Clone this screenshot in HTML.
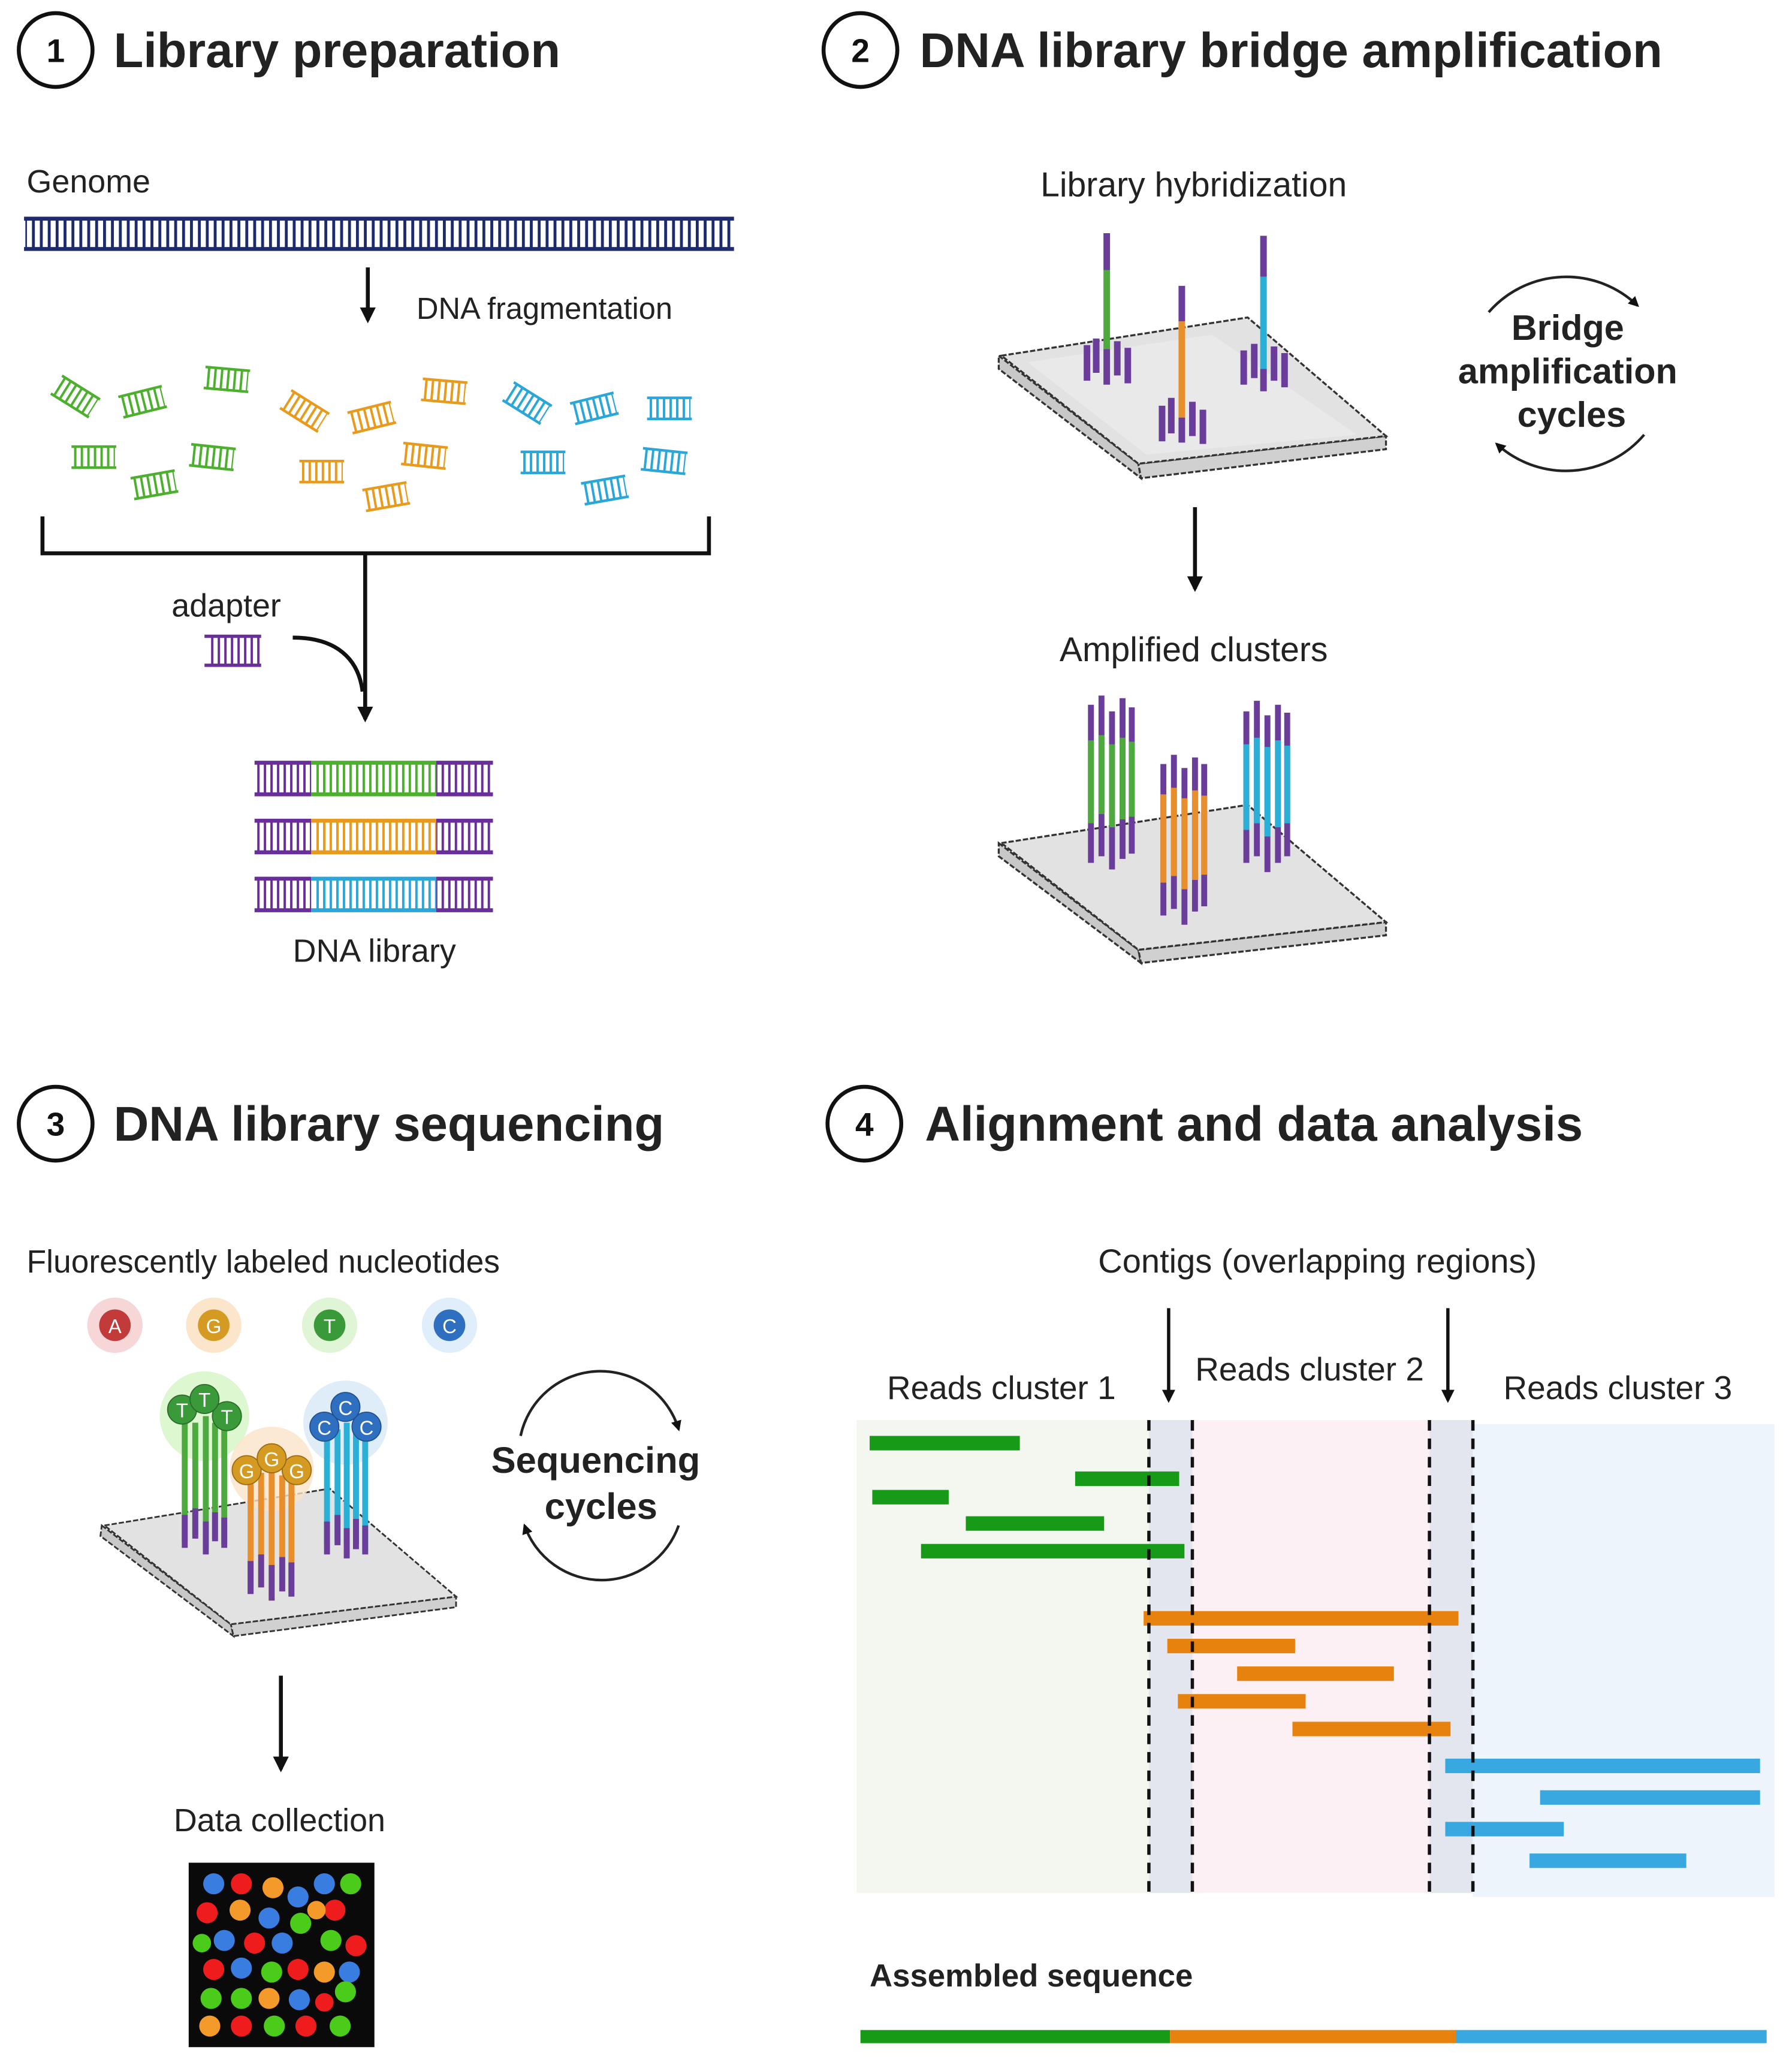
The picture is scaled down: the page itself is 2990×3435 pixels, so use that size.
<!DOCTYPE html>
<html><head><meta charset="utf-8"><style>html,body{margin:0;padding:0;background:#fff}svg{display:block}</style></head><body>
<svg width="2990" height="3435" viewBox="0 0 1360 1563" xmlns="http://www.w3.org/2000/svg" font-family="Liberation Sans, sans-serif">
<defs>
<pattern id="pN" width="6" height="10" patternUnits="userSpaceOnUse"><rect width="2.2" height="10" fill="#1d2a6b"/></pattern>
<pattern id="pG" width="5" height="10" patternUnits="userSpaceOnUse"><rect width="1.8" height="10" fill="#4cb02e"/></pattern>
<pattern id="pO" width="5" height="10" patternUnits="userSpaceOnUse"><rect width="1.8" height="10" fill="#e89a1c"/></pattern>
<pattern id="pB" width="5" height="10" patternUnits="userSpaceOnUse"><rect width="1.8" height="10" fill="#2aa6d8"/></pattern>
<pattern id="pP" width="5" height="10" patternUnits="userSpaceOnUse"><rect width="1.8" height="10" fill="#6a2e9a"/></pattern>
<g id="fG"><rect x="-16" y="-8" width="32" height="16" fill="url(#pG)"/><path d="M-17 -8H17M-17 8H17" stroke="#4cb02e" stroke-width="2"/></g>
<g id="fO"><rect x="-16" y="-8" width="32" height="16" fill="url(#pO)"/><path d="M-17 -8H17M-17 8H17" stroke="#e89a1c" stroke-width="2"/></g>
<g id="fB"><rect x="-16" y="-8" width="32" height="16" fill="url(#pB)"/><path d="M-17 -8H17M-17 8H17" stroke="#2aa6d8" stroke-width="2"/></g>
<marker id="ah2" viewBox="0 0 10 10" refX="8" refY="5" markerWidth="4" markerHeight="4" orient="auto" markerUnits="strokeWidth"><path d="M0 0L10 5L0 10Z" fill="#111"/></marker>
</defs>

<!-- Titles -->
<g fill="none" stroke="#111" stroke-width="3">
<circle cx="42" cy="38" r="28"/><circle cx="653" cy="38" r="28"/><circle cx="42" cy="853" r="28"/><circle cx="656" cy="853" r="28"/>
</g>
<g font-weight="bold" font-size="25" text-anchor="middle" fill="#111">
<text x="42" y="47">1</text><text x="653" y="47">2</text><text x="42" y="862">3</text><text x="656" y="862">4</text>
</g>
<g font-weight="bold" font-size="37" fill="#222">
<text x="86" y="51">Library preparation</text>
<text x="698" y="51">DNA library bridge amplification</text>
<text x="86" y="866">DNA library sequencing</text>
<text x="702" y="866">Alignment and data analysis</text>
</g>

<!-- Panel 1 -->
<text x="20" y="146" font-size="24.5" fill="#222">Genome</text>
<rect x="19" y="166" width="537" height="23" fill="url(#pN)"/>
<path d="M18 166H557M18 189H557" stroke="#1d2a6b" stroke-width="3"/>
<line x1="279" y1="203" x2="279" y2="243" stroke="#111" stroke-width="3" marker-end="url(#ah2)"/>
<text x="316" y="242" font-size="23" fill="#222">DNA fragmentation</text>
<use href="#fG" transform="translate(57,301) rotate(32)"/>
<use href="#fG" transform="translate(108,305) rotate(-14)"/>
<use href="#fG" transform="translate(172,288) rotate(5)"/>
<use href="#fG" transform="translate(71,347)"/>
<use href="#fG" transform="translate(117,368) rotate(-10)"/>
<use href="#fG" transform="translate(161,347) rotate(6)"/>
<use href="#fO" transform="translate(231,312) rotate(32)"/>
<use href="#fO" transform="translate(282,317) rotate(-14)"/>
<use href="#fO" transform="translate(337,297) rotate(5)"/>
<use href="#fO" transform="translate(244,358)"/>
<use href="#fO" transform="translate(293,377) rotate(-10)"/>
<use href="#fO" transform="translate(322,346) rotate(6)"/>
<use href="#fB" transform="translate(400,306) rotate(32)"/>
<use href="#fB" transform="translate(451,310) rotate(-14)"/>
<use href="#fB" transform="translate(508,310)"/>
<use href="#fB" transform="translate(412,351)"/>
<use href="#fB" transform="translate(459,372) rotate(-10)"/>
<use href="#fB" transform="translate(504,350) rotate(6)"/>
<path d="M32 392V420H538V392" fill="none" stroke="#111" stroke-width="3"/>
<line x1="277" y1="420" x2="277" y2="546" stroke="#111" stroke-width="3" marker-end="url(#ah2)"/>
<text x="130" y="468" font-size="24.5" fill="#222">adapter</text>
<rect x="157" y="483" width="40" height="22" fill="url(#pP)"/>
<path d="M155 483H198M155 505H198" stroke="#6a2e9a" stroke-width="2.5"/>
<path d="M222 484 C255 484 272 500 275 525" fill="none" stroke="#111" stroke-width="3"/>
<g>
<rect x="195" y="579" width="178" height="24" fill="url(#pP)"/><rect x="236" y="579" width="95" height="24" fill="#fff"/><rect x="237" y="579" width="94" height="24" fill="url(#pG)"/>
<path d="M193 579H236M193 603H236M331 579H374M331 603H374" stroke="#6a2e9a" stroke-width="3"/><path d="M236 579H331M236 603H331" stroke="#4cb02e" stroke-width="3"/>
<rect x="195" y="623" width="178" height="24" fill="url(#pP)"/><rect x="236" y="623" width="95" height="24" fill="#fff"/><rect x="237" y="623" width="94" height="24" fill="url(#pO)"/>
<path d="M193 623H236M193 647H236M331 623H374M331 647H374" stroke="#6a2e9a" stroke-width="3"/><path d="M236 623H331M236 647H331" stroke="#e89a1c" stroke-width="3"/>
<rect x="195" y="667" width="178" height="24" fill="url(#pP)"/><rect x="236" y="667" width="95" height="24" fill="#fff"/><rect x="237" y="667" width="94" height="24" fill="url(#pB)"/>
<path d="M193 667H236M193 691H236M331 667H374M331 691H374" stroke="#6a2e9a" stroke-width="3"/><path d="M236 667H331M236 691H331" stroke="#2aa6d8" stroke-width="3"/>
</g>
<text x="284" y="730" font-size="24.5" fill="#222" text-anchor="middle">DNA library</text>

<!-- Panel 2 -->
<text x="906" y="149" font-size="26" fill="#222" text-anchor="middle">Library hybridization</text>
<g stroke="#333" stroke-width="1.5" stroke-dasharray="4 1.5">
<polygon points="758,270 864,352 866,363 758,280" fill="#c8c8c8"/>
<polygon points="864,352 1052,331 1052,341 866,363" fill="#d0d0d0"/>
<polygon points="760,270 947,241 1052,331 864,352" fill="#e2e2e2"/>
</g>
<polygon points="780,275 920,254 1030,330 870,345" fill="#eeeeee" opacity="0.6"/>
<g stroke-width="5">
<line x1="840" y1="177" x2="840" y2="205" stroke="#6a3d9a"/><line x1="840" y1="205" x2="840" y2="265" stroke="#4ea93e"/><line x1="840" y1="265" x2="840" y2="292" stroke="#6a3d9a"/>
<g stroke="#6a3d9a"><line x1="825" y1="262" x2="825" y2="289"/><line x1="832" y1="257" x2="832" y2="283"/><line x1="848" y1="259" x2="848" y2="285"/><line x1="856" y1="264" x2="856" y2="291"/></g>
<line x1="897" y1="217" x2="897" y2="244" stroke="#6a3d9a"/><line x1="897" y1="244" x2="897" y2="317" stroke="#e88e2c"/><line x1="897" y1="317" x2="897" y2="336" stroke="#6a3d9a"/>
<g stroke="#6a3d9a"><line x1="882" y1="308" x2="882" y2="335"/><line x1="889" y1="302" x2="889" y2="329"/><line x1="905" y1="305" x2="905" y2="331"/><line x1="913" y1="311" x2="913" y2="337"/></g>
<line x1="959" y1="179" x2="959" y2="210" stroke="#6a3d9a"/><line x1="959" y1="210" x2="959" y2="280" stroke="#2ab0d6"/><line x1="959" y1="280" x2="959" y2="297" stroke="#6a3d9a"/>
<g stroke="#6a3d9a"><line x1="944" y1="266" x2="944" y2="292"/><line x1="952" y1="261" x2="952" y2="287"/><line x1="967" y1="263" x2="967" y2="289"/><line x1="975" y1="268" x2="975" y2="294"/></g>
</g>
<path d="M1130 237 A78 78 0 0 1 1243 232" fill="none" stroke="#222" stroke-width="2" marker-end="url(#ah2)"/>
<path d="M1248 330 A78 78 0 0 1 1136 337" fill="none" stroke="#222" stroke-width="2" marker-end="url(#ah2)"/>
<g font-weight="bold" font-size="27" fill="#222" text-anchor="middle">
<text x="1190" y="258">Bridge</text><text x="1190" y="291">amplification</text><text x="1193" y="324">cycles</text>
</g>
<line x1="907" y1="385" x2="907" y2="447" stroke="#111" stroke-width="3" marker-end="url(#ah2)"/>
<text x="906" y="502" font-size="26" fill="#222" text-anchor="middle">Amplified clusters</text>
<g stroke="#333" stroke-width="1.5" stroke-dasharray="4 1.5">
<polygon points="758,640 864,721 866,731 758,650" fill="#c8c8c8"/>
<polygon points="864,721 1052,700 1052,710 866,731" fill="#d0d0d0"/>
<polygon points="760,640 947,611 1052,700 864,721" fill="#e2e2e2"/>
</g>
<g stroke-width="4.5">
<g stroke="#6a3d9a"><path d="M828 535V655M836 528V650M844 540V660M852 530V652M859 537V648"/></g>
<g stroke="#4ea93e"><path d="M828 562V625M836 558V618M844 565V628M852 560V622M859 563V620"/></g>
<g stroke="#6a3d9a"><path d="M883 580V695M891 573V690M899 583V702M907 575V692M914 580V688"/></g>
<g stroke="#e88e2c"><path d="M883 603V670M891 598V665M899 606V675M907 600V668M914 604V664"/></g>
<g stroke="#6a3d9a"><path d="M946 540V655M954 532V650M962 543V662M970 535V655M977 541V650"/></g>
<g stroke="#2ab0d6"><path d="M946 565V630M954 560V625M962 567V635M970 562V628M977 566V625"/></g>
</g>

<!-- Panel 3 -->
<text x="20" y="966" font-size="24.3" fill="#222">Fluorescently labeled nucleotides</text>
<g font-size="15" text-anchor="middle" fill="#fff">
<circle cx="87" cy="1006" r="21" fill="#f6d6d6"/><circle cx="87" cy="1006" r="12" fill="#c23b3b"/><text x="87" y="1012">A</text>
<circle cx="162" cy="1006" r="21" fill="#fbe6cc"/><circle cx="162" cy="1006" r="12" fill="#d49a22"/><text x="162" y="1012">G</text>
<circle cx="250" cy="1006" r="21" fill="#dff5d6"/><circle cx="250" cy="1006" r="12" fill="#3a9a3a"/><text x="250" y="1012">T</text>
<circle cx="341" cy="1006" r="21" fill="#dfeefa"/><circle cx="341" cy="1006" r="12" fill="#2f6fbf"/><text x="341" y="1012">C</text>
</g>
<g stroke="#333" stroke-width="1.3" stroke-dasharray="4 1.5">
<polygon points="77,1158 175,1233 177,1242 76,1166" fill="#c8c8c8"/>
<polygon points="175,1233 346,1212 346,1220 177,1242" fill="#d0d0d0"/>
<polygon points="79,1158 250,1130 346,1212 175,1233" fill="#e2e2e2"/>
</g>
<circle cx="155" cy="1075" r="34" fill="#d4f5c4" opacity="0.8"/>
<circle cx="206" cy="1115" r="32" fill="#fbe3c9" opacity="0.8"/>
<circle cx="262" cy="1080" r="32" fill="#dcebf8" opacity="0.9"/>
<g stroke-width="4.5">
<path d="M140 1080V1170M148 1080V1165M156 1075V1175M163 1080V1168M170 1080V1172" stroke="#4ea93e"/>
<path d="M140 1150V1175M148 1145V1168M156 1155V1180M163 1148V1170M170 1152V1175" stroke="#6a3d9a"/>
<path d="M190 1120V1210M198 1118V1205M206 1115V1215M214 1120V1208M221 1120V1212" stroke="#e88e2c"/>
<path d="M190 1185V1210M198 1180V1205M206 1188V1215M214 1182V1208M221 1186V1212" stroke="#6a3d9a"/>
<path d="M248 1085V1175M256 1085V1170M263 1080V1180M270 1085V1172M277 1085V1178" stroke="#2ab0d6"/>
<path d="M248 1155V1180M256 1150V1173M263 1160V1183M270 1153V1176M277 1158V1180" stroke="#6a3d9a"/>
</g>
<g font-size="15" text-anchor="middle" fill="#fff" stroke-width="0.8">
<circle cx="138" cy="1070" r="11" fill="#3a9a3a" stroke="#2a6a2a"/><text x="138" y="1076">T</text>
<circle cx="172" cy="1075" r="11" fill="#3a9a3a" stroke="#2a6a2a"/><text x="172" y="1081">T</text>
<circle cx="155" cy="1062" r="11" fill="#3a9a3a" stroke="#2a6a2a"/><text x="155" y="1068">T</text>
<circle cx="187" cy="1116" r="11" fill="#d49a22" stroke="#9a6a10"/><text x="187" y="1122">G</text>
<circle cx="225" cy="1116" r="11" fill="#d49a22" stroke="#9a6a10"/><text x="225" y="1122">G</text>
<circle cx="206" cy="1107" r="11" fill="#d49a22" stroke="#9a6a10"/><text x="206" y="1113">G</text>
<circle cx="246" cy="1083" r="11" fill="#2f6fbf" stroke="#1f4f8f"/><text x="246" y="1089">C</text>
<circle cx="278" cy="1083" r="11" fill="#2f6fbf" stroke="#1f4f8f"/><text x="278" y="1089">C</text>
<circle cx="262" cy="1068" r="11" fill="#2f6fbf" stroke="#1f4f8f"/><text x="262" y="1074">C</text>
</g>
<path d="M395 1090 A62 62 0 0 1 515 1085" fill="none" stroke="#222" stroke-width="2" marker-end="url(#ah2)"/>
<path d="M515 1158 A62 62 0 0 1 398 1158" fill="none" stroke="#222" stroke-width="2" marker-end="url(#ah2)"/>
<g font-weight="bold" font-size="28" fill="#222" text-anchor="middle">
<text x="452" y="1118">Sequencing</text><text x="456" y="1153">cycles</text>
</g>
<line x1="213" y1="1272" x2="213" y2="1343" stroke="#111" stroke-width="3" marker-end="url(#ah2)"/>
<text x="212" y="1390" font-size="24.5" fill="#222" text-anchor="middle">Data collection</text>
<rect x="143" y="1414" width="141" height="140" fill="#0a0a0a"/>
<g>
<circle cx="162" cy="1430" r="8" fill="#3a7de0"/><circle cx="183" cy="1430" r="8" fill="#ee1c1c"/><circle cx="207" cy="1433" r="8" fill="#f39a2a"/><circle cx="226" cy="1440" r="8" fill="#3a7de0"/><circle cx="246" cy="1430" r="8" fill="#3a7de0"/><circle cx="266" cy="1430" r="8" fill="#4ccc1a"/>
<circle cx="157" cy="1452" r="8" fill="#ee1c1c"/><circle cx="182" cy="1450" r="8" fill="#f39a2a"/><circle cx="204" cy="1456" r="8" fill="#3a7de0"/><circle cx="228" cy="1460" r="8" fill="#4ccc1a"/><circle cx="254" cy="1450" r="8" fill="#ee1c1c"/><circle cx="240" cy="1450" r="7" fill="#f39a2a"/>
<circle cx="170" cy="1473" r="8" fill="#3a7de0"/><circle cx="193" cy="1475" r="8" fill="#ee1c1c"/><circle cx="214" cy="1475" r="8" fill="#3a7de0"/><circle cx="251" cy="1473" r="8" fill="#4ccc1a"/><circle cx="270" cy="1477" r="8" fill="#ee1c1c"/><circle cx="153" cy="1475" r="7" fill="#4ccc1a"/>
<circle cx="162" cy="1495" r="8" fill="#ee1c1c"/><circle cx="183" cy="1494" r="8" fill="#3a7de0"/><circle cx="206" cy="1497" r="8" fill="#4ccc1a"/><circle cx="226" cy="1495" r="8" fill="#ee1c1c"/><circle cx="246" cy="1497" r="8" fill="#f39a2a"/><circle cx="265" cy="1497" r="8" fill="#3a7de0"/>
<circle cx="160" cy="1517" r="8" fill="#4ccc1a"/><circle cx="183" cy="1517" r="8" fill="#4ccc1a"/><circle cx="204" cy="1517" r="8" fill="#f39a2a"/><circle cx="227" cy="1518" r="8" fill="#3a7de0"/><circle cx="262" cy="1512" r="8" fill="#4ccc1a"/><circle cx="246" cy="1520" r="7" fill="#ee1c1c"/>
<circle cx="159" cy="1538" r="8" fill="#f39a2a"/><circle cx="183" cy="1538" r="8" fill="#ee1c1c"/><circle cx="208" cy="1538" r="8" fill="#4ccc1a"/><circle cx="232" cy="1538" r="8" fill="#ee1c1c"/><circle cx="258" cy="1538" r="8" fill="#4ccc1a"/>
</g>

<!-- Panel 4 -->
<text x="1000" y="966" font-size="25.5" fill="#222" text-anchor="middle">Contigs (overlapping regions)</text>
<line x1="887" y1="993" x2="887" y2="1063" stroke="#111" stroke-width="2.5" marker-end="url(#ah2)"/>
<line x1="1099" y1="993" x2="1099" y2="1063" stroke="#111" stroke-width="2.5" marker-end="url(#ah2)"/>
<g font-size="25" fill="#222" text-anchor="middle">
<text x="760" y="1062">Reads cluster 1</text><text x="994" y="1048">Reads cluster 2</text><text x="1228" y="1062">Reads cluster 3</text>
</g>
<rect x="650" y="1078" width="222" height="359" fill="#f3f7ef"/>
<rect x="872" y="1078" width="33" height="359" fill="#e3e6ee"/>
<rect x="905" y="1078" width="180" height="359" fill="#fcf0f5"/>
<rect x="1085" y="1078" width="33" height="359" fill="#e3e6ee"/>
<rect x="1118" y="1081" width="229" height="359" fill="#eef4fb"/>
<g fill="#179a17">
<rect x="660" y="1090" width="114" height="11"/><rect x="816" y="1117" width="79" height="11"/><rect x="662" y="1131" width="58" height="11"/><rect x="733" y="1151" width="105" height="11"/><rect x="699" y="1172" width="200" height="11"/>
</g>
<g fill="#e8820e">
<rect x="868" y="1223" width="239" height="11"/><rect x="886" y="1244" width="97" height="11"/><rect x="939" y="1265" width="119" height="11"/><rect x="894" y="1286" width="97" height="11"/><rect x="981" y="1307" width="120" height="11"/>
</g>
<g fill="#3aa8e0">
<rect x="1097" y="1335" width="239" height="11"/><rect x="1169" y="1359" width="167" height="11"/><rect x="1097" y="1383" width="90" height="11"/><rect x="1161" y="1407" width="119" height="11"/>
</g>
<g stroke="#111" stroke-width="2.5" stroke-dasharray="8 6">
<line x1="872" y1="1078" x2="872" y2="1437"/><line x1="905" y1="1078" x2="905" y2="1437"/><line x1="1085" y1="1078" x2="1085" y2="1437"/><line x1="1118" y1="1078" x2="1118" y2="1437"/>
</g>
<text x="660" y="1508" font-size="24" font-weight="bold" fill="#222">Assembled sequence</text>
<rect x="653" y="1541" width="235" height="10" fill="#179a17"/>
<rect x="888" y="1541" width="217" height="10" fill="#e8820e"/>
<rect x="1105" y="1541" width="236" height="10" fill="#3aa8e0"/>
</svg>
</body></html>
